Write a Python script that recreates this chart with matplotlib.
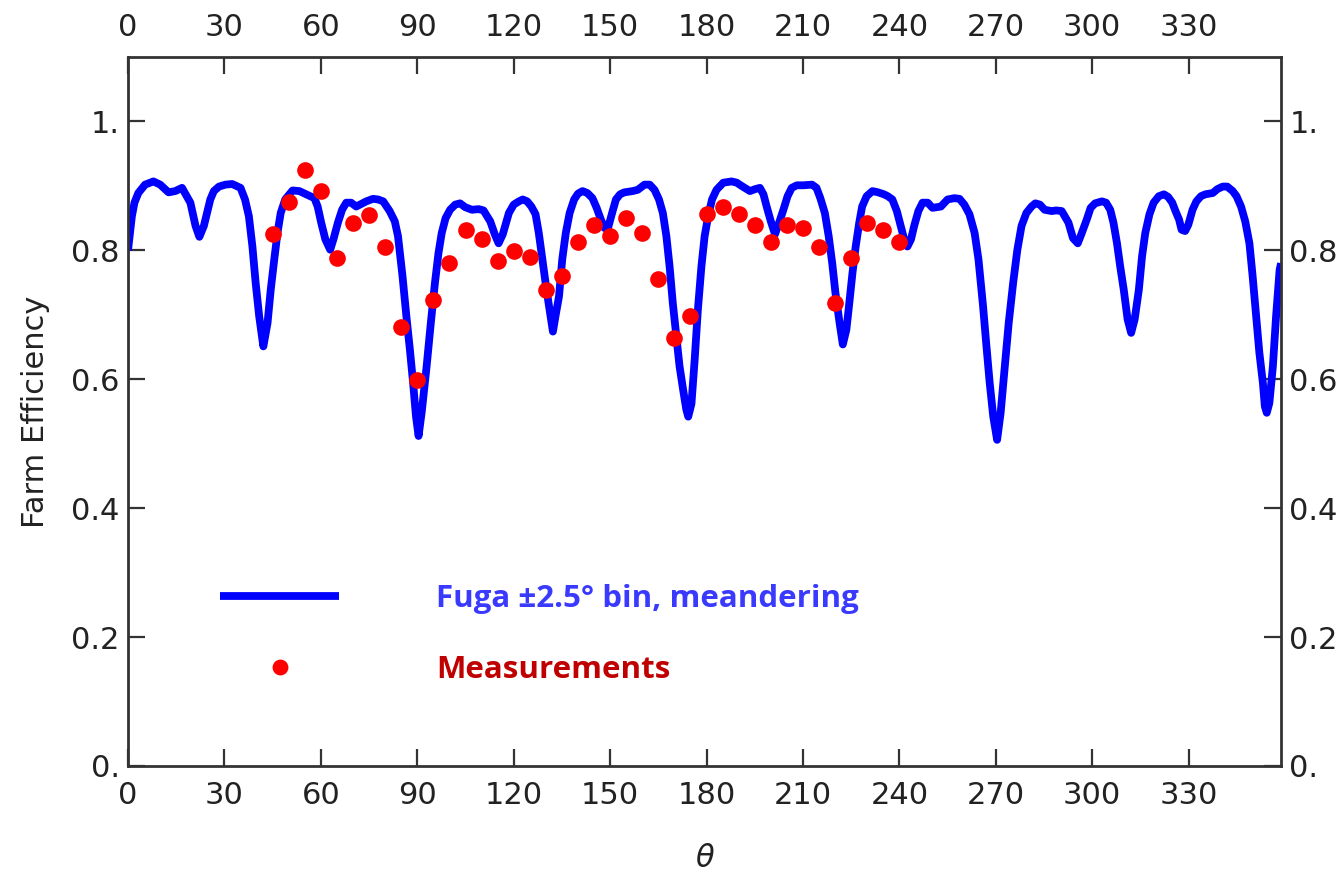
import matplotlib
matplotlib.use("Agg")
import matplotlib.pyplot as plt
from matplotlib.ticker import FuncFormatter, MultipleLocator

plt.rcParams["font.family"] = "DejaVu Sans"

# Fuga +-2.5 deg bin, meandering
fuga_theta = [0, 1.2, 2.0, 3.2, 5.3, 7.9, 10.0, 12.6, 14.7, 16.8, 19.4, 21.0, 22.2, 23.6, 25.6,
              26.7, 28.3, 30.3, 32.4, 35.0, 36.4, 37.6, 38.7, 39.7, 40.8, 42.1, 43.4, 44.4, 45.5,
              46.5, 47.5, 48.9, 51.2, 53.3, 55.4, 58.0, 59.0, 60.1, 61.4, 62.9, 63.9, 65.3, 66.6,
              67.9, 69.4, 71.0, 74.1, 76.2, 77.8, 79.4, 81.4, 83.0, 84.0, 85.4, 86.6, 87.7, 88.7,
              89.6, 90.4, 91.4, 92.9, 94.2, 95.5, 96.6, 97.6, 98.8, 100.2, 101.8, 103.3, 104.9,
              107.0, 109.1, 110.6, 112.7, 114.1, 115.3, 116.6, 118.5, 120.0, 121.6, 122.8, 124.2,
              125.5, 126.8, 127.8, 128.9, 129.9, 131.0, 132.2, 133.0, 134.1, 135.1, 136.2, 137.4,
              138.8, 140.0, 141.4, 142.9, 144.5, 145.8, 147.1, 148.2, 149.2, 150.5, 151.8, 153.1,
              154.4, 157.0, 158.6, 160.7, 162.3, 163.8, 165.2, 166.4, 167.5, 168.5, 169.5, 170.6,
              171.6, 172.7, 173.7, 174.3, 175.3, 176.3, 177.3, 178.4, 179.4, 180.5, 181.7, 183.1,
              185.2, 187.8, 189.4, 190.9, 193.5, 195.1, 196.6, 197.7, 198.7, 200.0, 201.3, 202.7,
              203.9, 205.2, 206.5, 208.1, 210.2, 212.8, 214.2, 215.4, 216.8, 218.0, 219.1, 220.1,
              221.4, 222.4, 223.5, 224.3, 225.4, 226.4, 227.5, 228.4, 229.8, 231.6, 233.4, 235.2,
              236.4, 237.8, 239.2, 240.4, 241.5, 242.5, 243.6, 244.6, 245.9, 247.2, 248.8, 250.3,
              252.9, 255.0, 257.1, 258.7, 260.2, 261.8, 263.4, 264.6, 266.0, 267.0, 268.1, 269.2,
              270.4, 271.5, 272.8, 274.0, 275.4, 276.7, 278.0, 279.5, 281.1, 282.3, 283.7, 285.2,
              287.4, 288.8, 290.5, 292.6, 294.0, 295.5, 296.6, 298.3, 299.5, 300.9, 303.0, 304.3,
              305.6, 306.6, 307.7, 308.7, 309.8, 311.0, 312.1, 313.2, 314.5, 315.5, 316.5, 317.8,
              319.1, 320.7, 322.3, 323.6, 324.9, 325.9, 327.0, 327.8, 328.9, 329.9, 331.2, 332.4,
              333.8, 335.2, 337.5, 338.9, 340.6, 342.0, 343.7, 344.9, 346.3, 347.6, 348.9, 349.9,
              351.0, 352.0, 353.1, 353.7, 354.3, 355.1, 356.2, 357.2, 358.3, 358.75]
fuga_eff = [0.800, 0.853, 0.874, 0.889, 0.902, 0.907, 0.902, 0.890, 0.892, 0.897, 0.874, 0.838,
            0.821, 0.838, 0.879, 0.892, 0.899, 0.902, 0.903, 0.897, 0.879, 0.853, 0.806, 0.750,
            0.698, 0.651, 0.687, 0.739, 0.786, 0.827, 0.858, 0.879, 0.893, 0.892, 0.887, 0.881,
            0.868, 0.843, 0.817, 0.801, 0.817, 0.843, 0.863, 0.874, 0.874, 0.868, 0.876, 0.880,
            0.879, 0.876, 0.861, 0.845, 0.822, 0.760, 0.698, 0.646, 0.594, 0.542, 0.512, 0.550,
            0.620, 0.687, 0.750, 0.796, 0.827, 0.850, 0.863, 0.871, 0.873, 0.867, 0.863, 0.864,
            0.862, 0.845, 0.825, 0.811, 0.825, 0.858, 0.871, 0.876, 0.879, 0.876, 0.868, 0.856,
            0.827, 0.786, 0.750, 0.713, 0.674, 0.698, 0.729, 0.786, 0.827, 0.858, 0.879, 0.888,
            0.892, 0.889, 0.881, 0.866, 0.848, 0.835, 0.832, 0.856, 0.879, 0.887, 0.890, 0.892,
            0.894, 0.902, 0.902, 0.894, 0.879, 0.858, 0.822, 0.775, 0.718, 0.667, 0.620, 0.584,
            0.553, 0.542, 0.562, 0.630, 0.708, 0.775, 0.822, 0.853, 0.879, 0.894, 0.905, 0.907,
            0.905, 0.900, 0.892, 0.895, 0.897, 0.887, 0.868, 0.845, 0.825, 0.845, 0.863, 0.884,
            0.897, 0.901, 0.901, 0.902, 0.897, 0.881, 0.858, 0.822, 0.780, 0.734, 0.687, 0.654,
            0.677, 0.713, 0.765, 0.806, 0.843, 0.868, 0.884, 0.892, 0.890, 0.887, 0.884, 0.879,
            0.861, 0.838, 0.817, 0.806, 0.817, 0.838, 0.861, 0.874, 0.874, 0.866, 0.868, 0.879,
            0.881, 0.880, 0.871, 0.856, 0.827, 0.786, 0.715, 0.656, 0.594, 0.542, 0.506, 0.548,
            0.620, 0.687, 0.750, 0.801, 0.838, 0.858, 0.868, 0.873, 0.871, 0.863, 0.861, 0.862,
            0.861, 0.843, 0.819, 0.811, 0.825, 0.848, 0.866, 0.873, 0.876, 0.874, 0.863, 0.843,
            0.811, 0.775, 0.739, 0.693, 0.672, 0.693, 0.739, 0.791, 0.827, 0.856, 0.874, 0.884,
            0.887, 0.883, 0.874, 0.861, 0.848, 0.832, 0.830, 0.840, 0.863, 0.876, 0.884, 0.887,
            0.889, 0.895, 0.899, 0.899, 0.892, 0.884, 0.868, 0.845, 0.811, 0.760, 0.698, 0.641,
            0.594, 0.558, 0.548, 0.563, 0.620, 0.698, 0.770, 0.780]

# measurements, every 5 deg from 45 to 240
meas_theta = list(range(45, 241, 5))
meas_eff = [0.826, 0.875, 0.925, 0.892, 0.788, 0.842, 0.855, 0.805, 0.681, 0.599,
            0.723, 0.780, 0.831, 0.818, 0.784, 0.799, 0.789, 0.739, 0.760, 0.813,
            0.839, 0.822, 0.851, 0.827, 0.756, 0.664, 0.698, 0.856, 0.868, 0.856,
            0.839, 0.813, 0.839, 0.835, 0.805, 0.718, 0.788, 0.843, 0.831, 0.813]

fig = plt.figure(figsize=(13.42, 8.72), dpi=100)
ax = fig.add_axes([0.0954, 0.1216, 0.8592, 0.8130])

ax.plot(fuga_theta, fuga_eff, color="#0000ff", lw=5.6, solid_joinstyle="round",
        solid_capstyle="butt", label="Fuga \u00b12.5\u00b0 bin, meandering")
ax.plot(meas_theta, meas_eff, "o", color="#ff0000", ms=12, mec="none", label="Measurements")

ax.set_xlim(0, 358.75)
ax.set_ylim(0, 1.1)
ax.xaxis.set_major_locator(MultipleLocator(30))
ax.yaxis.set_major_locator(MultipleLocator(0.2))


def yfmt(v, pos):
    if abs(v) < 1e-9:
        return "0."
    if abs(v - 1) < 1e-9:
        return "1."
    return f"{v:.1f}"


ax.yaxis.set_major_formatter(FuncFormatter(yfmt))
ax.tick_params(direction="in", length=12, width=1.6, color="#333333", labelcolor="#222222",
               labelsize=22, top=True, right=True, labeltop=True, labelright=True, pad=6)
ax.tick_params(axis="x", pad=11)
for s in ax.spines.values():
    s.set_linewidth(2)
    s.set_color("#333333")

ax.set_ylabel("Farm Efficiency", fontsize=22, color="#222222")
ax.yaxis.set_label_coords(-0.068, 0.5)
ax.set_xlabel("\u03b8", fontsize=22, style="italic", color="#222222")
ax.xaxis.set_label_coords(0.5, -0.110)

leg = ax.legend(loc="upper left", bbox_to_anchor=(0.080, 0.257), frameon=False,
                prop={"family": "Open Sans", "weight": "bold", "size": 22.5},
                handlelength=3.8, handletextpad=3.1, labelspacing=1.33,
                borderpad=0, borderaxespad=0, markerscale=0.95,
                labelcolor=["#3a3aff", "#c00000"])

fig.savefig("out.png", dpi=100)
